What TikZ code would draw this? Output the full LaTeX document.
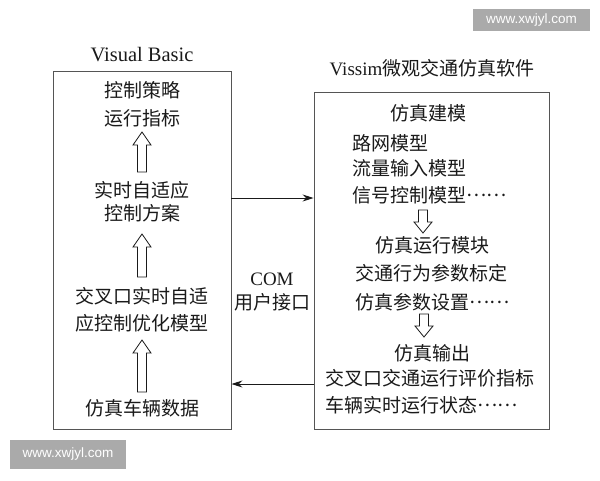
\documentclass[tikz,border=0pt]{standalone}
\usepackage{fontspec}
\setmainfont{Liberation Serif}
\newfontfamily\cjk{Noto Sans CJK SC}
\newfontfamily\wmfont{Liberation Sans}
\usetikzlibrary{arrows.meta}
\definecolor{ink}{HTML}{1A1A1A}
\definecolor{edge}{HTML}{555555}
\definecolor{wmgray}{HTML}{AAAAAA}
\newcommand\hollowup[3]{\draw[hollow] ({#1-4.5},#2) -- ({#1-4.5},{#3+13}) -- ({#1-9},{#3+13}) -- (#1,#3) -- ({#1+9},{#3+13}) -- ({#1+4.5},{#3+13}) -- ({#1+4.5},#2) -- cycle;}
\newcommand\hollowdown[3]{\draw[hollow] ({#1-4.5},#2) -- ({#1-4.5},{#3-11}) -- ({#1-9},{#3-11}) -- (#1,#3) -- ({#1+9},{#3-11}) -- ({#1+4.5},{#3-11}) -- ({#1+4.5},#2) -- cycle;}
\newcommand\middots{\raisebox{0.32em}{……}}
\begin{document}
\begin{tikzpicture}[x=1pt,y=-1pt,
 every node/.style={inner sep=0pt, text=ink},
 cn/.style={font=\cjk\fontsize{19}{22}\selectfont},
 lat/.style={font=\rmfamily\fontsize{19}{22}\selectfont},
 box/.style={draw=edge, line width=0.9pt},
 hollow/.style={draw=ink, line width=0.8pt, fill=white, line join=miter},
 link/.style={draw=ink, line width=0.8pt, -{Stealth[length=11pt,width=7pt]}},
 wmbox/.style={fill=wmgray, text=white, font=\wmfont\fontsize{13.5}{16}\selectfont, minimum width=117pt, minimum height=22pt}]
\path[use as bounding box] (0,0) rectangle (600,480);
\fill[white] (0,0) rectangle (600,480);
% watermarks
\node[wmbox] (wm1) at (531.5,20) {www.xwjyl.com};
\node[wmbox, minimum width=116pt, minimum height=29pt] (wm2) at (68,454.5) {www.xwjyl.com};
% boxes
\node[box, minimum width=178pt, minimum height=358pt] (vb) at (142,250) {};
\node[box, minimum width=235pt, minimum height=337pt] (vs) at (431.5,260.5) {};
% titles
\node[lat, font=\rmfamily\fontsize{20.5}{24}\selectfont] (vbt) at (142,55) {Visual Basic};
\node[lat] (vst) at (432,68) {Vissim{\cjk 微观交通仿真软件}};
% left contents
\node[cn] (l1) at (142,90) {控制策略};
\node[cn] (l2) at (142,118) {运行指标};
\node[cn] (l3) at (142,190) {实时自适应};
\node[cn] (l4) at (142,213) {控制方案};
\node[cn] (l5) at (142,296) {交叉口实时自适};
\node[cn] (l6) at (142,323) {应控制优化模型};
\node[cn] (l7) at (142,408) {仿真车辆数据};
\hollowup{142}{172}{132}
\hollowup{142}{277}{234}
\hollowup{142}{392}{340}
% right contents
\node[cn] (r1) at (428,113) {仿真建模};
\node[cn, anchor=west] (r2) at (352,143) {路网模型};
\node[cn, anchor=west] (r3) at (352,168) {流量输入模型};
\node[cn, anchor=west] (r4) at (352,195) {信号控制模型\middots};
\node[cn] (r5) at (432,245) {仿真运行模块};
\node[cn] (r6) at (431,273) {交通行为参数标定};
\node[cn, anchor=west] (r7) at (355,302) {仿真参数设置\middots};
\node[cn] (r8) at (432,353) {仿真输出};
\node[cn, anchor=west] (r9) at (325,378) {交叉口交通运行评价指标};
\node[cn, anchor=west] (r10) at (325,405) {车辆实时运行状态\middots};
\hollowdown{423}{210}{233}
\hollowdown{424}{314}{337}
% interface
\node[lat] (com) at (272,279) {COM};
\node[cn] (ui) at (272,302) {用户接口};
\coordinate (ya) at (0,198);
\coordinate (yb) at (0,384);
\draw[link] (vb.east |- ya) -- (vs.west |- ya);
\draw[link] (vs.west |- yb) -- (vb.east |- yb);
\end{tikzpicture}
\end{document}
